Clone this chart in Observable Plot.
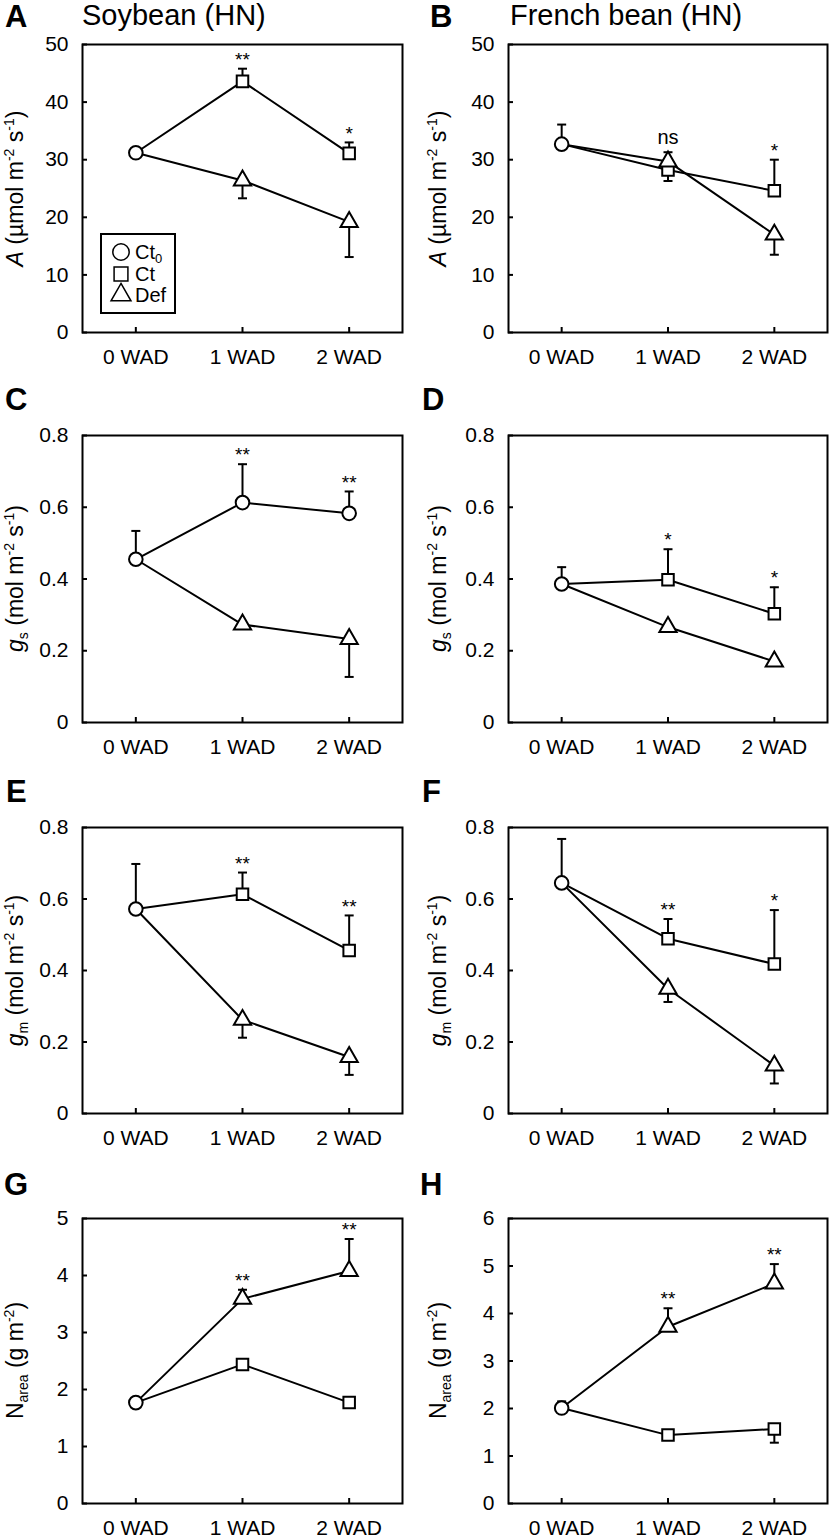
<!DOCTYPE html>
<html><head><meta charset="utf-8">
<script src="https://cdn.jsdelivr.net/npm/d3@7"></script>
<script src="https://cdn.jsdelivr.net/npm/@observablehq/plot@0.6"></script>
<style>
body{margin:0;background:#fff;font-family:Arial,"Liberation Sans",sans-serif;color:#000;}
#root{position:relative;width:829px;height:1538px;overflow:hidden;background:#fff;}
.abs{position:absolute;}
.letter{font-weight:bold;font-size:31px;line-height:31px;white-space:nowrap;}
.coltitle{font-size:29px;line-height:29px;white-space:nowrap;}
.ytitle{width:300px;height:23px;text-align:center;font-size:23px;line-height:23px;white-space:nowrap;transform:rotate(-90deg);}
.ytitle sup,.ytitle sub{font-size:14px;line-height:0;}
.legend{border:2px solid #000;background:#fff;font-size:19px;}
</style></head><body><div id="root"></div><script>
// ---------- data (index 0 = 0 WAD (Ct0), 1 = 1 WAD, 2 = 2 WAD) ----------
const weeks = ["0 WAD", "1 WAD", "2 WAD"];
const columnTitles = ["Soybean (HN)", "French bean (HN)"];
const panelLetters = ["A", "B", "C", "D", "E", "F", "G", "H"];
const legendLabels = ["Ct", "Ct", "Def"];

// A – Soybean, A (µmol m-2 s-1)
const A_ct = [31.2, 43.6, 31.1];
const A_ctErr = [0.3, 2.2, 1.9];
const A_def = [null, 26.4, 19.2];
const A_defErr = [null, -3.1, -6.1];
const A_sig = ["", "**", "*"];
// B – French bean, A
const B_ct = [32.7, 28.2, 24.6];
const B_ctErr = [3.4, -1.9, 5.4];
const B_def = [null, 29.7, 17.0];
const B_defErr = [null, 1.6, -3.5];
const B_sig = ["", "ns", "*"];
// C – Soybean, gs
const C_ct = [0.455, 0.613, 0.583];
const C_ctErr = [0.079, 0.107, 0.061];
const C_def = [null, 0.273, 0.233];
const C_defErr = [null, -0.01, -0.106];
const C_sig = ["", "**", "**"];
// D – French bean, gs
const D_ct = [0.386, 0.398, 0.303];
const D_ctErr = [0.047, 0.085, 0.074];
const D_def = [null, 0.266, 0.170];
const D_defErr = [null, -0.01, -0.005];
const D_sig = ["", "*", "*"];
// E – Soybean, gm
const E_ct = [0.572, 0.613, 0.456];
const E_ctErr = [0.126, 0.061, 0.098];
const E_def = [null, 0.262, 0.158];
const E_defErr = [null, -0.05, -0.05];
const E_sig = ["", "**", "**"];
// F – French bean, gm
const F_ct = [0.645, 0.489, 0.418];
const F_ctErr = [0.123, 0.055, 0.151];
const F_def = [null, 0.349, 0.134];
const F_defErr = [null, -0.037, -0.05];
const F_sig = ["", "**", "*"];
// G – Soybean, Narea
const G_ct = [1.77, 2.44, 1.77];
const G_ctErr = [0.03, 0.03, 0.03];
const G_def = [null, 3.59, 4.08];
const G_defErr = [null, 0.16, 0.56];
const G_sig = ["", "**", "**"];
// H – French bean, Narea
const H_ct = [2.01, 1.44, 1.57];
const H_ctErr = [0.14, -0.05, -0.29];
const H_def = [null, 3.72, 4.63];
const H_defErr = [null, 0.39, 0.41];
const H_sig = ["", "**", "**"];

const ticksA = [0, 10, 20, 30, 40, 50];
const ticksG = [0, 0.2, 0.4, 0.6, 0.8];
const ticksN5 = [0, 1, 2, 3, 4, 5];
const ticksN6 = [0, 1, 2, 3, 4, 5, 6];

const yTitleA = '<i>A</i> (µmol m<sup>-2</sup> s<sup>-1</sup>)';
const yTitleGs = '<i>g</i><sub>s</sub> (mol m<sup>-2</sup> s<sup>-1</sup>)';
const yTitleGm = '<i>g</i><sub>m</sub> (mol m<sup>-2</sup> s<sup>-1</sup>)';
const yTitleN = 'N<sub>area</sub> (g m<sup>-2</sup>)';

// ---------- layout ----------
const colLeft = [0, 410], mLeft = [82, 98], plotW = [320, 319], mRight = [8, 2];
const rowTop = [44, 435, 827, 1218], rowH = [288, 287, 286, 285], mTop = 10, mBottom = 40;
const letterPos = [[5, 1], [430, 1], [5, 384], [422, 384], [6, 776], [422, 776], [4, 1169], [420, 1169]];
const yTitleX = [15, 438];

const fmt1 = d => d === 0 ? "0" : d.toFixed(1);
const panels = [
  {ct: A_ct, ctErr: A_ctErr, def: A_def, defErr: A_defErr, sig: A_sig, ticks: ticksA, fmt: d => d, title: yTitleA, ctSym: "square"},
  {ct: B_ct, ctErr: B_ctErr, def: B_def, defErr: B_defErr, sig: B_sig, ticks: ticksA, fmt: d => d, title: yTitleA, ctSym: "square"},
  {ct: C_ct, ctErr: C_ctErr, def: C_def, defErr: C_defErr, sig: C_sig, ticks: ticksG, fmt: fmt1, title: yTitleGs, ctSym: "circle"},
  {ct: D_ct, ctErr: D_ctErr, def: D_def, defErr: D_defErr, sig: D_sig, ticks: ticksG, fmt: fmt1, title: yTitleGs, ctSym: "square"},
  {ct: E_ct, ctErr: E_ctErr, def: E_def, defErr: E_defErr, sig: E_sig, ticks: ticksG, fmt: fmt1, title: yTitleGm, ctSym: "square"},
  {ct: F_ct, ctErr: F_ctErr, def: F_def, defErr: F_defErr, sig: F_sig, ticks: ticksG, fmt: fmt1, title: yTitleGm, ctSym: "square"},
  {ct: G_ct, ctErr: G_ctErr, def: G_def, defErr: G_defErr, sig: G_sig, ticks: ticksN5, fmt: d => d, title: yTitleN, ctSym: "square"},
  {ct: H_ct, ctErr: H_ctErr, def: H_def, defErr: H_defErr, sig: H_sig, ticks: ticksN6, fmt: d => d, title: yTitleN, ctSym: "square"}
];

const symR = {circle: 6.8, square: 6.5, triangle: 6.4};
const capSym = {draw(ctx) { ctx.moveTo(-4.5, 0); ctx.lineTo(4.5, 0); }};

const root = document.getElementById("root");
function addDiv(cls, html, left, top) {
  const d = document.createElement("div");
  d.className = "abs " + cls;
  d.innerHTML = html;
  d.style.left = left + "px";
  d.style.top = top + "px";
  root.appendChild(d);
  return d;
}

panels.forEach((p, k) => {
  const c = k % 2, r = Math.floor(k / 2);
  const plotH = rowH[r];
  const ctLine = p.ct.map((v, i) => ({x: i, y: v}));
  const defLine = [{x: 0, y: p.ct[0]}, ...p.def.slice(1).map((v, i) => ({x: i + 1, y: v}))];
  const errs = [];
  p.ct.forEach((v, i) => { if (p.ctErr[i]) errs.push({x: i, y1: v, y2: v + p.ctErr[i]}); });
  p.def.forEach((v, i) => { if (v != null && p.defErr[i]) errs.push({x: i, y1: v, y2: v + p.defErr[i]}); });
  const circles = [{x: 0, y: p.ct[0]}];
  const ctPts = p.ct.slice(1).map((v, i) => ({x: i + 1, y: v}));
  const defPts = p.def.slice(1).map((v, i) => ({x: i + 1, y: v}));
  const sig = p.sig.map((s, i) => s ? {
    x: i, label: s,
    y: Math.max(p.ct[i] + Math.max(p.ctErr[i], 0), p.def[i] + Math.max(p.defErr[i], 0))
  } : null).filter(Boolean);
  const ctSymR = symR[p.ctSym];
  const yDomain = [p.ticks[0], p.ticks[p.ticks.length - 1]];

  const svg = Plot.plot({
    width: mLeft[c] + plotW[c] + mRight[c],
    height: mTop + plotH + mBottom,
    marginLeft: mLeft[c], marginRight: mRight[c], marginTop: mTop, marginBottom: mBottom,
    style: {fontFamily: 'Arial, "Liberation Sans", sans-serif', fontSize: "21px", color: "#000", background: "transparent", overflow: "visible"},
    x: {domain: [-0.5, 2.5]},
    y: {domain: yDomain},
    marks: [
      Plot.line(ctLine, {x: "x", y: "y", stroke: "#000", strokeWidth: 2}),
      Plot.line(defLine, {x: "x", y: "y", stroke: "#000", strokeWidth: 2}),
      Plot.ruleX(errs, {x: "x", y1: "y1", y2: "y2", stroke: "#000", strokeWidth: 2}),
      Plot.dot(errs, {x: "x", y: "y2", symbol: capSym, r: 3, stroke: "#000", fill: "none", strokeWidth: 2}),
      Plot.dot(ctPts, {x: "x", y: "y", symbol: p.ctSym, r: ctSymR, stroke: "#000", fill: "#fff", strokeWidth: 2}),
      Plot.dot(defPts, {x: "x", y: "y", symbol: "triangle", r: symR.triangle, stroke: "#000", fill: "#fff", strokeWidth: 2}),
      Plot.dot(circles, {x: "x", y: "y", symbol: "circle", r: symR.circle, stroke: "#000", fill: "#fff", strokeWidth: 2}),
      Plot.text(sig.filter(d => d.label !== "ns"), {x: "x", y: "y", text: "label", dy: -9, fontSize: 19, fill: "#000"}),
      Plot.text(sig.filter(d => d.label === "ns"), {x: "x", y: "y", text: "label", dy: -15, fontSize: 20, fill: "#000"}),
      Plot.frame({stroke: "#000", strokeWidth: 2}),
      Plot.axisX({ticks: [0, 1, 2], tickFormat: i => weeks[i], tickSize: -5, tickPadding: 22, strokeWidth: 2, label: null, fontSize: 21}),
      Plot.axisY({ticks: p.ticks, tickFormat: p.fmt, tickSize: -5, tickPadding: 19, strokeWidth: 2, label: null, fontSize: 21})
    ]
  });
  svg.style.position = "absolute";
  svg.style.left = colLeft[c] + "px";
  svg.style.top = (rowTop[r] - mTop) + "px";
  root.appendChild(svg);

  // panel letter
  addDiv("letter", panelLetters[k], letterPos[k][0], letterPos[k][1]);
  // y-axis title
  const cy = rowTop[r] + plotH / 2;
  addDiv("ytitle", p.title, yTitleX[c] - 150, cy - 11.5);
});

// column titles
addDiv("coltitle", columnTitles[0], 82, 1);
addDiv("coltitle", columnTitles[1], 510, 1);

// legend (panel A)
const leg = addDiv("legend", "", 100, 233);
leg.style.width = "72px";
leg.style.height = "77px";
const lsvg = d3.create("svg").attr("width", 72).attr("height", 77).style("position", "absolute").style("left", "0px").style("top", "0px");
const legSyms = [[d3.symbolCircle, 8.2], [d3.symbolSquare, 7.8], [d3.symbolTriangle, 7.4]];
const legY = [17, 39, 60];
legSyms.forEach(([s, rr], i) => {
  lsvg.append("path").attr("d", d3.symbol(s, Math.PI * rr * rr)()).attr("transform", `translate(19,${legY[i]})`)
    .attr("fill", "#fff").attr("stroke", "#000").attr("stroke-width", 1.5);
  const t = lsvg.append("text").attr("x", 33).attr("y", legY[i] + 7).attr("font-size", 20).attr("fill", "#000")
    .attr("font-family", 'Arial, "Liberation Sans", sans-serif').text(legendLabels[i]);
  if (i === 0) t.append("tspan").attr("font-size", 13).attr("dy", 4).text("0");
});
leg.appendChild(lsvg.node());
</script></body></html>
